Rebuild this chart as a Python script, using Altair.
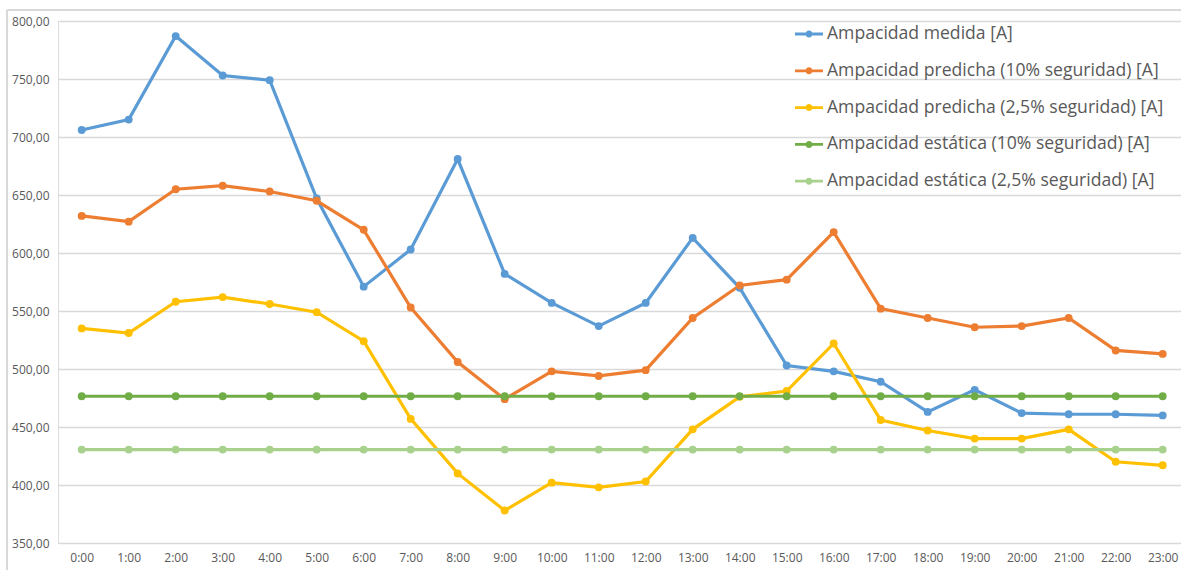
import altair as alt
import pandas as pd

horas = [f"{h}:00" for h in range(24)]

series = [
    "Ampacidad medida [A]",
    "Ampacidad predicha (10% seguridad) [A]",
    "Ampacidad predicha (2,5% seguridad) [A]",
    "Ampacidad estática (10% seguridad) [A]",
    "Ampacidad estática (2,5% seguridad) [A]",
]
colores = ["#5B9BD5", "#ED7D31", "#FFC000", "#70AD47", "#A9D18E"]

medida = [706, 715, 787, 753, 749, 647, 571, 603, 681, 582, 557, 537,
          557, 613, 570, 503, 498, 489, 463, 482, 462, 461, 461, 460]
predicha_10 = [632, 627, 655, 658, 653, 645, 620, 553, 506, 474, 498, 494,
               499, 544, 572, 577, 618, 552, 544, 536, 537, 544, 516, 513]
predicha_25 = [535, 531, 558, 562, 556, 549, 524, 457, 410, 378, 402, 398,
               403, 448, 476, 481, 522, 456, 447, 440, 440, 448, 420, 417]
estatica_10 = [476.5] * 24
estatica_25 = [430.5] * 24

valores = [medida, predicha_10, predicha_25, estatica_10, estatica_25]

rows = []
for nombre, vals in zip(series, valores):
    for h, v in zip(horas, vals):
        rows.append({"hora": h, "serie": nombre, "valor": v})
df = pd.DataFrame(rows)

# legend glyph: short line with a dot in the middle
glyph = ("M-1,-0.1H1V0.1H-1Z "
         "M-0.25,0A0.25,0.25 0 1,1 0.25,0A0.25,0.25 0 1,1 -0.25,0Z")

FONT = "Open Sans"
GRID = "#d9d9d9"
TEXT = "#595959"

x = alt.X("hora:N", sort=horas, title=None,
          scale=alt.Scale(type="point", padding=0.447, align=0.564),
          axis=alt.Axis(labelAngle=0, ticks=False, domain=False, grid=False,
                        labelPadding=9, labelFontSize=12, labelColor=TEXT,
                        labelFont=FONT))
y = alt.Y("valor:Q", title=None,
          scale=alt.Scale(domain=[350, 800], nice=False, zero=False),
          axis=alt.Axis(values=list(range(350, 801, 50)), ticks=False,
                        domain=False, gridColor=GRID, gridWidth=1.3,
                        labelPadding=9, labelFontSize=12, labelColor=TEXT,
                        labelFont=FONT,
                        labelExpr="replace(format(datum.value, '.2f'), '.', ',')"))

legend = alt.Legend(
    orient="none", legendX=737, legendY=-1, direction="vertical",
    symbolType=glyph, symbolSize=784, symbolStrokeWidth=0,
    labelFontSize=17.6, labelColor=TEXT, labelFont=FONT,
    labelOffset=4, rowPadding=13.8, labelLimit=400, padding=0,
)
color = alt.Color("serie:N", sort=series, title=None,
                  scale=alt.Scale(domain=series, range=colores),
                  legend=legend)

lines = alt.Chart(df).mark_line(strokeWidth=3.2).encode(x=x, y=y, color=color)
points = alt.Chart(df).mark_point(filled=True, size=62, opacity=1).encode(
    x=x, y=y, color=color)

# chart-area frame (top and left edges)
frame_top = alt.Chart(df).mark_rule(color=GRID, strokeWidth=1.3).encode(
    x=alt.value(-51), x2=alt.value(1130), y=alt.value(-11))
frame_left = alt.Chart(df).mark_rule(color=GRID, strokeWidth=1.3).encode(
    x=alt.value(-51), y=alt.value(-11), y2=alt.value(560))

chart = alt.layer(frame_top, frame_left, lines, points).properties(
    width=1123, height=522,
    autosize=alt.AutoSizeParams(type="none"),
    padding={"left": 58, "top": 21, "right": 0, "bottom": 27},
).configure_view(stroke=None).configure(background="white")

chart.save("out.html", embed_options={"renderer": "svg", "actions": False})
